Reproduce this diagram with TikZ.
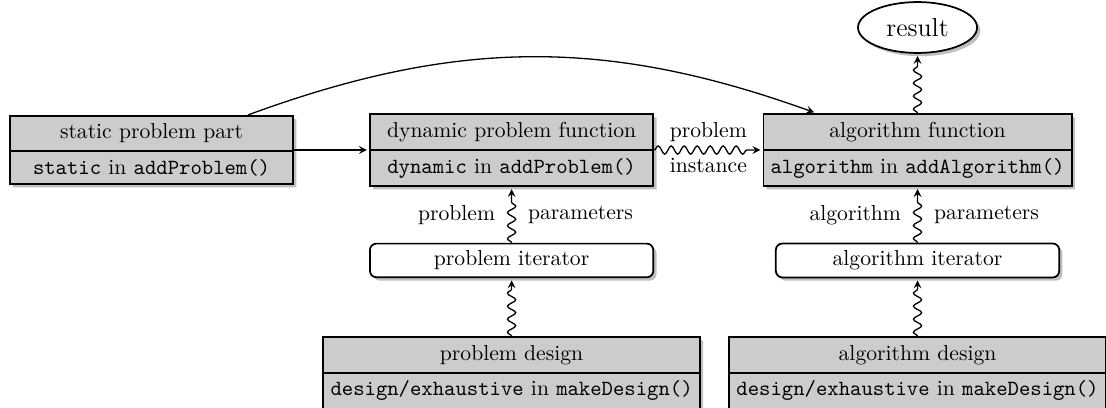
\documentclass[tikz,border=0pt]{standalone}
\usepackage{tikz}
\usetikzlibrary{positioning,shapes.multipart,shapes.geometric,shadows,decorations.pathmorphing}

\begin{document}
\begin{tikzpicture}[shorten >=1pt,>=stealth,node distance=2cm,on grid,auto,semithick,
    shade/.style={drop shadow={shadow xshift=1.5pt,shadow yshift=-1.5pt}},
    part/.style={rectangle split,rectangle split parts=2,draw,thick,
        fill=black!20,minimum width=4.6cm,shade},
    iter/.style={rectangle,rounded corners=3pt,draw,thick,fill=white,
        minimum width=4.6cm,shade},
    res/.style={ellipse,draw,thick,fill=white,minimum width=55pt,
        minimum height=23.5pt,font=\large,shade},
    wavy/.style={->,decorate,decoration={snake,amplitude=1.9pt,
        segment length=6pt,post length=5pt}}]

    \useasboundingbox (-70pt,69.3pt) rectangle (440.85pt,-118.7pt);

    \node[part] (static) {static problem part
        \nodepart{two}\texttt{static} in \texttt{addProblem()}};
    \node[part,right=166.3pt of static] (dyn) {dynamic problem function
        \nodepart{two}\texttt{dynamic} in \texttt{addProblem()}};
    \node[part,right=187.5pt of dyn] (alg) {algorithm function
        \nodepart{two}\texttt{algorithm} in \texttt{addAlgorithm()}};
    \node[res,above=56.6pt of alg] (res) {result};
    \node[iter,below=51pt of dyn] (piter) {problem iterator};
    \node[iter,below=51pt of alg] (aiter) {algorithm iterator};
    \node[part,below=52pt of piter] (pdes) {problem design
        \nodepart{two}\texttt{design/exhaustive} in \texttt{makeDesign()}};
    \node[part,below=52pt of aiter] (ades) {algorithm design
        \nodepart{two}\texttt{design/exhaustive} in \texttt{makeDesign()}};

    \path (static) edge[->] (dyn)
        (static.20) edge[->,bend left=20] (alg.160)
        (dyn) edge[wavy] node[above]{problem} node[below]{instance} (alg)
        (piter) edge[wavy] node[left=4pt]{problem} node[right=4pt]{parameters} (dyn)
        (aiter) edge[wavy] node[left=4pt]{algorithm} node[right=4pt]{parameters} (alg)
        (pdes) edge[wavy] (piter)
        (ades) edge[wavy] (aiter)
        (alg) edge[wavy] (res);

\end{tikzpicture}
\end{document}
